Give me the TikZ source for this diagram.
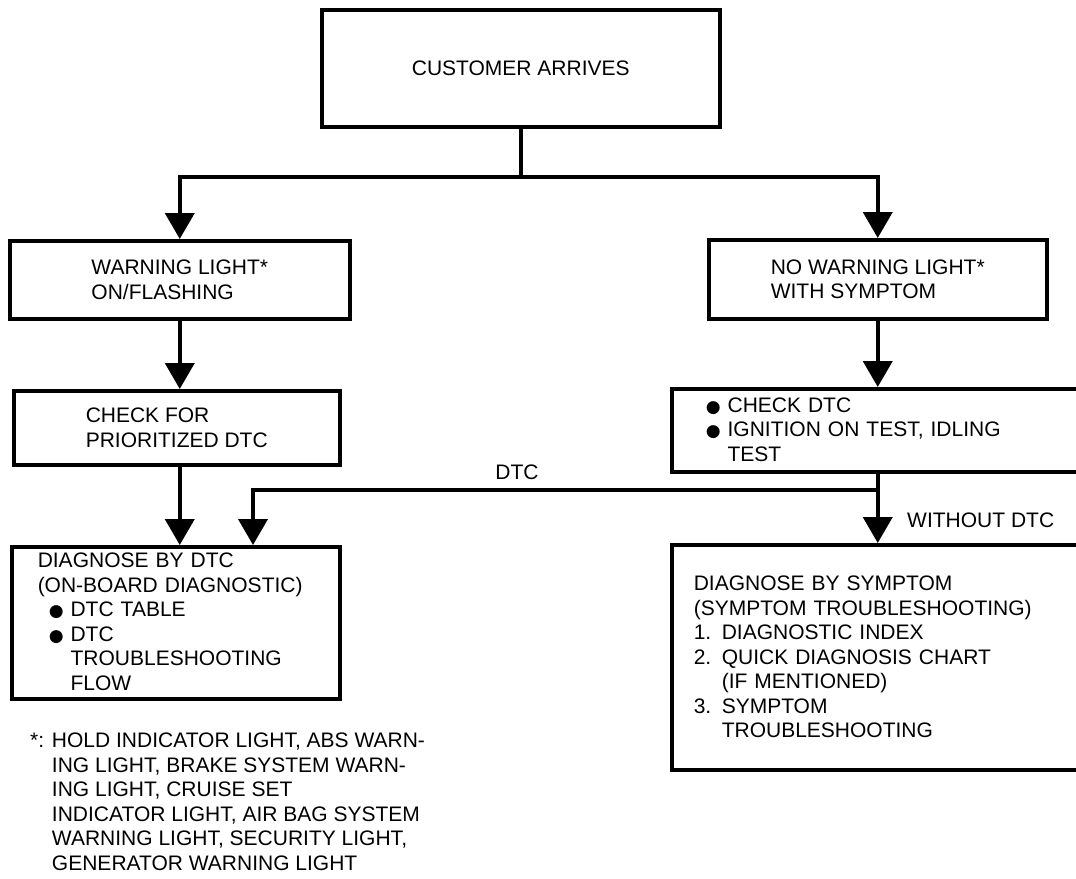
\documentclass[tikz,border=0pt]{standalone}
\usepackage{fontspec}
\setmainfont{Liberation Sans}
\newfontfamily\dotfont{DejaVu Sans}
\usetikzlibrary{arrows.meta}
\newcommand{\bul}{{\dotfont\fontsize{17}{17}\selectfont ●}}

\begin{document}
\begin{tikzpicture}[x=1pt, y=-1pt,
    flowbox/.style={draw, line width=3.5pt, anchor=north west, align=left, inner sep=0pt, font=\fontsize{21}{24.5}\selectfont},
    conn/.style={line width=4pt},
    arr/.style={conn, -{Triangle[width=29pt,length=26pt]}},
    lbl/.style={inner sep=0pt, font=\fontsize{21}{24.5}\selectfont}]
    \useasboundingbox (0,0) rectangle (1076,878);

    % Boxes
    \node[flowbox, minimum width=398pt, minimum height=117pt] (cust) at (320,8) {CUSTOMER ARRIVES};
    \node[flowbox, minimum width=340pt, minimum height=78pt] (warn) at (8,239) {WARNING LIGHT*\\ON/FLASHING};
    \node[flowbox, minimum width=338pt, minimum height=79pt] (nowarn) at (707,238) {NO WARNING LIGHT*\\WITH SYMPTOM};
    \node[flowbox, minimum width=326pt, minimum height=74pt] (prio) at (12,389) {CHECK FOR\\PRIORITIZED DTC};
    \node[flowbox, minimum width=410pt, minimum height=83pt, text width=342pt] (checkdtc) at (670,387)
        {\bul\ CHECK DTC\\\bul\ IGNITION ON TEST, IDLING\\\phantom{\bul\ }TEST};
    \node[flowbox, minimum width=328pt, minimum height=152pt, text width=276pt] (bydtc) at (10,545)
        {DIAGNOSE BY DTC\\(ON-BOARD DIAGNOSTIC)\\
         \hspace*{11pt}\bul\ DTC TABLE\\\hspace*{11pt}\bul\ DTC\\
         \hspace*{11pt}\phantom{\bul\ }TROUBLESHOOTING\\\hspace*{11pt}\phantom{\bul\ }FLOW};
    \node[flowbox, minimum width=410pt, minimum height=225pt, text width=366pt] (bysym) at (670,543)
        {DIAGNOSE BY SYMPTOM\\(SYMPTOM TROUBLESHOOTING)\\1. DIAGNOSTIC INDEX\\2. QUICK DIAGNOSIS CHART\\
         \phantom{2. }(IF MENTIONED)\\3. SYMPTOM\\\phantom{3. }TROUBLESHOOTING};

    % Branch labels
    \node[lbl] (dtclbl) at (517,472) {DTC};
    \node[lbl, anchor=west] (nodtclbl) at (907,520) {WITHOUT DTC};

    % Bend points
    \coordinate (splitrow) at (0,177);
    \coordinate (dtcturn) at (253,490);
    \coordinate (fork) at (nowarn.south |- checkdtc.south);

    % Connectors
    \draw[conn] (cust.south) -- (cust.south |- splitrow);
    \draw[arr] (cust.south |- splitrow) -| (warn.north);
    \draw[arr] (cust.south |- splitrow) -| (nowarn.north);
    \draw[arr] (warn.south) -- (warn.south |- prio.north);
    \draw[arr] (nowarn.south) -- (nowarn.south |- checkdtc.north);
    \draw[arr] (warn.south |- prio.south) -- (warn.south |- bydtc.north);
    \draw[arr] (fork) |- (dtcturn) -- (dtcturn |- bydtc.north);
    \draw[arr] (fork) -- (fork |- bysym.north);

    % Footnote
    \node[lbl, anchor=north west, align=left] (note) at (30,733)
        {*: HOLD INDICATOR LIGHT, ABS WARN-\\\phantom{*: }ING LIGHT, BRAKE SYSTEM WARN-\\
         \phantom{*: }ING LIGHT, CRUISE SET\\\phantom{*: }INDICATOR LIGHT, AIR BAG SYSTEM\\
         \phantom{*: }WARNING LIGHT, SECURITY LIGHT,\\\phantom{*: }GENERATOR WARNING LIGHT};
\end{tikzpicture}
\end{document}
